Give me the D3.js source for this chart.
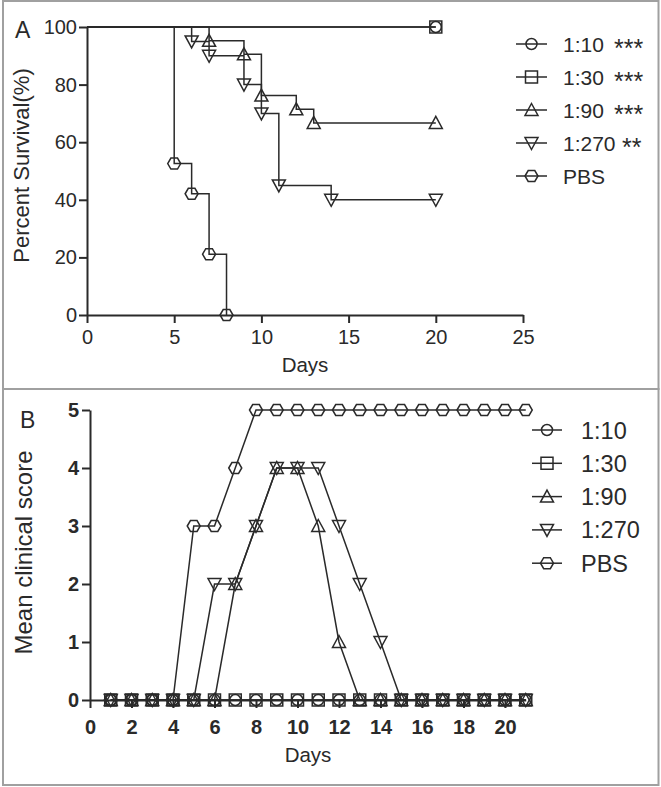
<!DOCTYPE html>
<html><head><meta charset="utf-8">
<script src="https://cdn.jsdelivr.net/npm/d3@7"></script>
<style>
body{margin:0;background:#fff}
svg{display:block;font-family:"Liberation Sans",Arial,sans-serif}
</style>
</head><body>
<svg id="chart" width="661" height="787"></svg>
<script>
// ---------- DATA ----------
const groups = ["1:10", "1:30", "1:90", "1:270", "PBS"];
const significance = ["***", "***", "***", "**", ""];

// Panel A: Kaplan-Meier survival (day of step, percent survival after step)
const survDays10  = [0, 20];
const survPct10   = [100, 100];
const survDays30  = [0, 20];
const survPct30   = [100, 100];
const survDays90  = [0, 7, 9, 10, 12, 13, 20];
const survPct90   = [100, 95.2, 90.5, 76.2, 71.4, 66.7, 66.7];
const survDays270 = [0, 6, 7, 9, 10, 11, 14, 20];
const survPct270  = [100, 95, 90, 80, 70, 45, 40, 40];
const survDaysPBS = [0, 5, 6, 7, 8];
const survPctPBS  = [100, 52.6, 42.1, 21.1, 0];

const survTicksX = [0, 5, 10, 15, 20, 25];
const survTicksY = [0, 20, 40, 60, 80, 100];

// Panel B: mean clinical score per day
const scoreDays  = [1,2,3,4,5,6,7,8,9,10,11,12,13,14,15,16,17,18,19,20,21];
const score10    = [0,0,0,0,0,0,0,0,0,0,0,0,0,0,0,0,0,0,0,0,0];
const score30    = [0,0,0,0,0,0,0,0,0,0,0,0,0,0,0,0,0,0,0,0,0];
const score90    = [0,0,0,0,0,0,2,3,4,4,3,1,0,0,0,0,0,0,0,0,0];
const score270   = [0,0,0,0,0,2,2,3,4,4,4,3,2,1,0,0,0,0,0,0,0];
const scorePBS   = [0,0,0,0,3,3,4,5,5,5,5,5,5,5,5,5,5,5,5,5,5];

const scoreTicksX = [0, 2, 4, 6, 8, 10, 12, 14, 16, 18, 20];
const scoreTicksY = [0, 1, 2, 3, 4, 5];

// ---------- STYLE ----------
const INK = "#2a2a2a";
const symbolPaths = {
  circle: "M5.5,0A5.5,5.5,0,1,1,-5.5,0A5.5,5.5,0,1,1,5.5,0Z",
  square: "M-6,-6H6V6H-6Z",
  triangle: "M0,-6.5L6.5,5.5L-6.5,5.5Z",
  triangleDown: "M0,6.5L6.5,-5.5L-6.5,-5.5Z",
  hexagon: "M-6.5,0L-3.3,-5.5L3.3,-5.5L6.5,0L3.3,5.5L-3.3,5.5Z"
};
const groupSymbols = ["circle", "square", "triangle", "triangleDown", "hexagon"];

const svg = d3.select("#chart");
svg.append("rect").attr("width", 661).attr("height", 787).attr("fill", "#fff");

// panel frames
svg.append("rect").attr("x", 3).attr("y", 1).attr("width", 655.5).attr("height", 388)
  .attr("fill", "none").attr("stroke", "#a0a0a0").attr("stroke-width", 2);
svg.append("rect").attr("x", 3).attr("y", 389).attr("width", 655.5).attr("height", 396)
  .attr("fill", "none").attr("stroke", "#a0a0a0").attr("stroke-width", 2);

function styleAxis(g, size, weight) {
  g.selectAll(".domain").attr("stroke", INK).attr("stroke-width", 2);
  g.selectAll(".tick line").attr("stroke", INK).attr("stroke-width", 2);
  g.selectAll(".tick text").attr("fill", INK).attr("font-size", size)
    .attr("font-weight", weight).attr("font-family", '"Liberation Sans",Arial,sans-serif');
}

function marker(g, name, x, y) {
  g.append("path").attr("d", symbolPaths[name])
    .attr("transform", `translate(${x},${y})`)
    .attr("fill", "none").attr("stroke", INK).attr("stroke-width", 1.5);
}

// ---------- PANEL A ----------
const xA = d3.scaleLinear().domain([0, 25]).range([87, 523]);
const yA = d3.scaleLinear().domain([0, 100]).range([315, 27]);
const gA = svg.append("g");

const survSeries = [
  [survDays10, survPct10], [survDays30, survPct30], [survDays90, survPct90],
  [survDays270, survPct270], [survDaysPBS, survPctPBS]
];
const stepLine = d3.line().x(d => xA(d[0])).y(d => yA(d[1])).curve(d3.curveStepAfter);

survSeries.forEach(([days, pct], i) => {
  const pts = days.map((d, k) => [d, pct[k]]);
  gA.append("path").attr("d", stepLine(pts)).attr("fill", "none")
    .attr("stroke", INK).attr("stroke-width", 1.5);
});

const axAx = gA.append("g").attr("transform", `translate(0,${yA(0)})`)
  .call(d3.axisBottom(xA).tickValues(survTicksX).tickFormat(d3.format("d"))
    .tickSize(8).tickPadding(7).tickSizeOuter(0));
styleAxis(axAx, 20, "normal");
const axAy = gA.append("g").attr("transform", `translate(${xA(0)},0)`)
  .call(d3.axisLeft(yA).tickValues(survTicksY).tickFormat(d3.format("d"))
    .tickSize(8).tickPadding(2).tickSizeOuter(0));
styleAxis(axAy, 20, "normal");

survSeries.forEach(([days, pct], i) => {
  days.forEach((d, k) => { if (k > 0) marker(gA, groupSymbols[i], xA(d), yA(pct[k])); });
});

gA.append("text").attr("x", 305).attr("y", 372).attr("text-anchor", "middle")
  .attr("font-size", 20.5).attr("fill", INK).text("Days");
gA.append("text").attr("transform", "translate(29,165.5) rotate(-90)")
  .attr("text-anchor", "middle").attr("font-size", 22).attr("fill", INK).text("Percent Survival(%)");
gA.append("text").attr("x", 15).attr("y", 38).attr("font-size", 23).attr("fill", INK).text("A");

// legend A
const legA = svg.append("g");
groups.forEach((name, i) => {
  const y = 44 + i * 33;
  legA.append("line").attr("x1", 516).attr("x2", 547).attr("y1", y).attr("y2", y)
    .attr("stroke", INK).attr("stroke-width", 1.5);
  marker(legA, groupSymbols[i], 531.5, y);
  legA.append("text").attr("x", 563).attr("y", y + 7.5).attr("font-size", 21)
    .attr("fill", INK).text(name);
  if (significance[i]) {
    legA.append("text").attr("x", name.length > 4 ? 622 : 614).attr("y", y + 13)
      .attr("font-size", 25).attr("fill", INK).text(significance[i]);
  }
});

// ---------- PANEL B ----------
const xB = d3.scaleLinear().domain([0, 21]).range([90, 525.75]);
const yB = d3.scaleLinear().domain([0, 5]).range([700, 410]);
const gB = svg.append("g");
const scoreSeries = [score10, score30, score90, score270, scorePBS];
const line = d3.line().x(d => xB(d[0])).y(d => yB(d[1]));

const axBx = gB.append("g").attr("transform", `translate(0,${yB(0)})`)
  .call(d3.axisBottom(xB).tickValues(scoreTicksX).tickFormat(d3.format("d"))
    .tickSize(8).tickPadding(12).tickSizeOuter(0));
styleAxis(axBx, 20, "bold");
const axBy = gB.append("g").attr("transform", `translate(${xB(0)},0)`)
  .call(d3.axisLeft(yB).tickValues(scoreTicksY).tickFormat(d3.format("d"))
    .tickSize(8).tickPadding(3).tickSizeOuter(0));
styleAxis(axBy, 20, "bold");

scoreSeries.forEach((vals, i) => {
  const pts = scoreDays.map((d, k) => [d, vals[k]]);
  gB.append("path").attr("d", line(pts)).attr("fill", "none")
    .attr("stroke", INK).attr("stroke-width", 1.5);
});
scoreSeries.forEach((vals, i) => {
  scoreDays.forEach((d, k) => marker(gB, groupSymbols[i], xB(d), yB(vals[k])));
});

gB.append("text").attr("x", 308).attr("y", 762).attr("text-anchor", "middle")
  .attr("font-size", 20.5).attr("fill", INK).text("Days");
gB.append("text").attr("transform", "translate(32,552.5) rotate(-90)")
  .attr("text-anchor", "middle").attr("font-size", 24).attr("fill", INK).text("Mean clinical score");
gB.append("text").attr("x", 20).attr("y", 428).attr("font-size", 23).attr("fill", INK).text("B");

// legend B
const legB = svg.append("g");
groups.forEach((name, i) => {
  const y = 430 + i * 33.3;
  legB.append("line").attr("x1", 532).attr("x2", 562).attr("y1", y).attr("y2", y)
    .attr("stroke", INK).attr("stroke-width", 1.5);
  marker(legB, groupSymbols[i], 547, y);
  legB.append("text").attr("x", 581).attr("y", y + 8.5).attr("font-size", 23.5)
    .attr("fill", INK).text(name);
});
</script>
</body></html>
